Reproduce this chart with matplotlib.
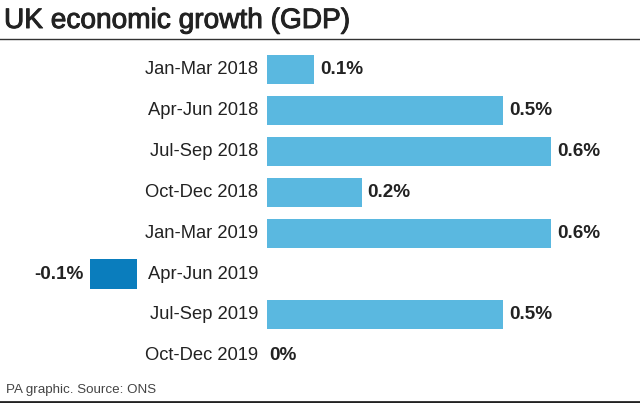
import matplotlib
matplotlib.use("Agg")
import matplotlib.pyplot as plt
from matplotlib.lines import Line2D
import matplotlib.patheffects as pe

categories = ["Jan-Mar 2018", "Apr-Jun 2018", "Jul-Sep 2018", "Oct-Dec 2018",
              "Jan-Mar 2019", "Apr-Jun 2019", "Jul-Sep 2019", "Oct-Dec 2019"]
values = [0.1, 0.5, 0.6, 0.2, 0.6, -0.1, 0.5, 0.0]
value_labels = ["0.1%", "0.5%", "0.6%", "0.2%", "0.6%", "-0.1%", "0.5%", "0%"]

title = "UK economic growth (GDP)"
source = "PA graphic. Source: ONS"

POS_COLOR = "#5ab8e0"
NEG_COLOR = "#0a7dbd"
FONT = "Liberation Sans"

W, H = 640, 403
fig = plt.figure(figsize=(W / 100, H / 100), dpi=100)
ax = fig.add_axes([0, 0, 1, 1])

zero_px = 267.0
px_per_unit = 473.0
row0_px = 69.5
row_step = 40.9
ax.set_xlim((0 - zero_px) / px_per_unit, (W - zero_px) / px_per_unit)
ax.set_ylim((H - row0_px) / row_step, (0 - row0_px) / row_step)
ax.axis("off")

px = 1.0 / px_per_unit
label_x = -9 * px
neg_anchor = -130 * px
bar_h = 0.71

for i, (cat, v, lab) in enumerate(zip(categories, values, value_labels)):
    ax.text(label_x, i, cat, ha="right", va="center", fontsize=13.2,
            family=FONT, color="#222222")
    if v < 0:
        ax.barh(i, v, left=neg_anchor, height=bar_h, color=NEG_COLOR)
        ax.text(neg_anchor + v - 6 * px, i, lab, ha="right", va="center",
                fontsize=13.6, fontweight="bold", family=FONT, color="#222222")
    else:
        ax.barh(i, v, left=0, height=bar_h, color=POS_COLOR)
        off = 6 * px if v > 0 else 2 * px
        ax.text(v + off, i, lab, ha="left", va="center",
                fontsize=13.6, fontweight="bold", family=FONT, color="#222222")

fig.text(4 / W, 1 - 28 / H, title, ha="left", va="baseline", fontsize=20.2,
         family=FONT, color="#222222",
         path_effects=[pe.withStroke(linewidth=0.7, foreground="#222222")])
fig.add_artist(Line2D([0, 1], [1 - 38.5 / H, 1 - 38.5 / H], color="#333333",
                      linewidth=1.0, transform=fig.transFigure))
fig.text(6 / W, 1 - 393.5 / H, source, ha="left", va="baseline", fontsize=9.6,
         family=FONT, color="#444444")
fig.add_artist(Line2D([0, 1], [1 - 402 / H, 1 - 402 / H], color="#222222",
                      linewidth=2.0, transform=fig.transFigure))

fig.savefig("out.png", dpi=100, facecolor="white")
